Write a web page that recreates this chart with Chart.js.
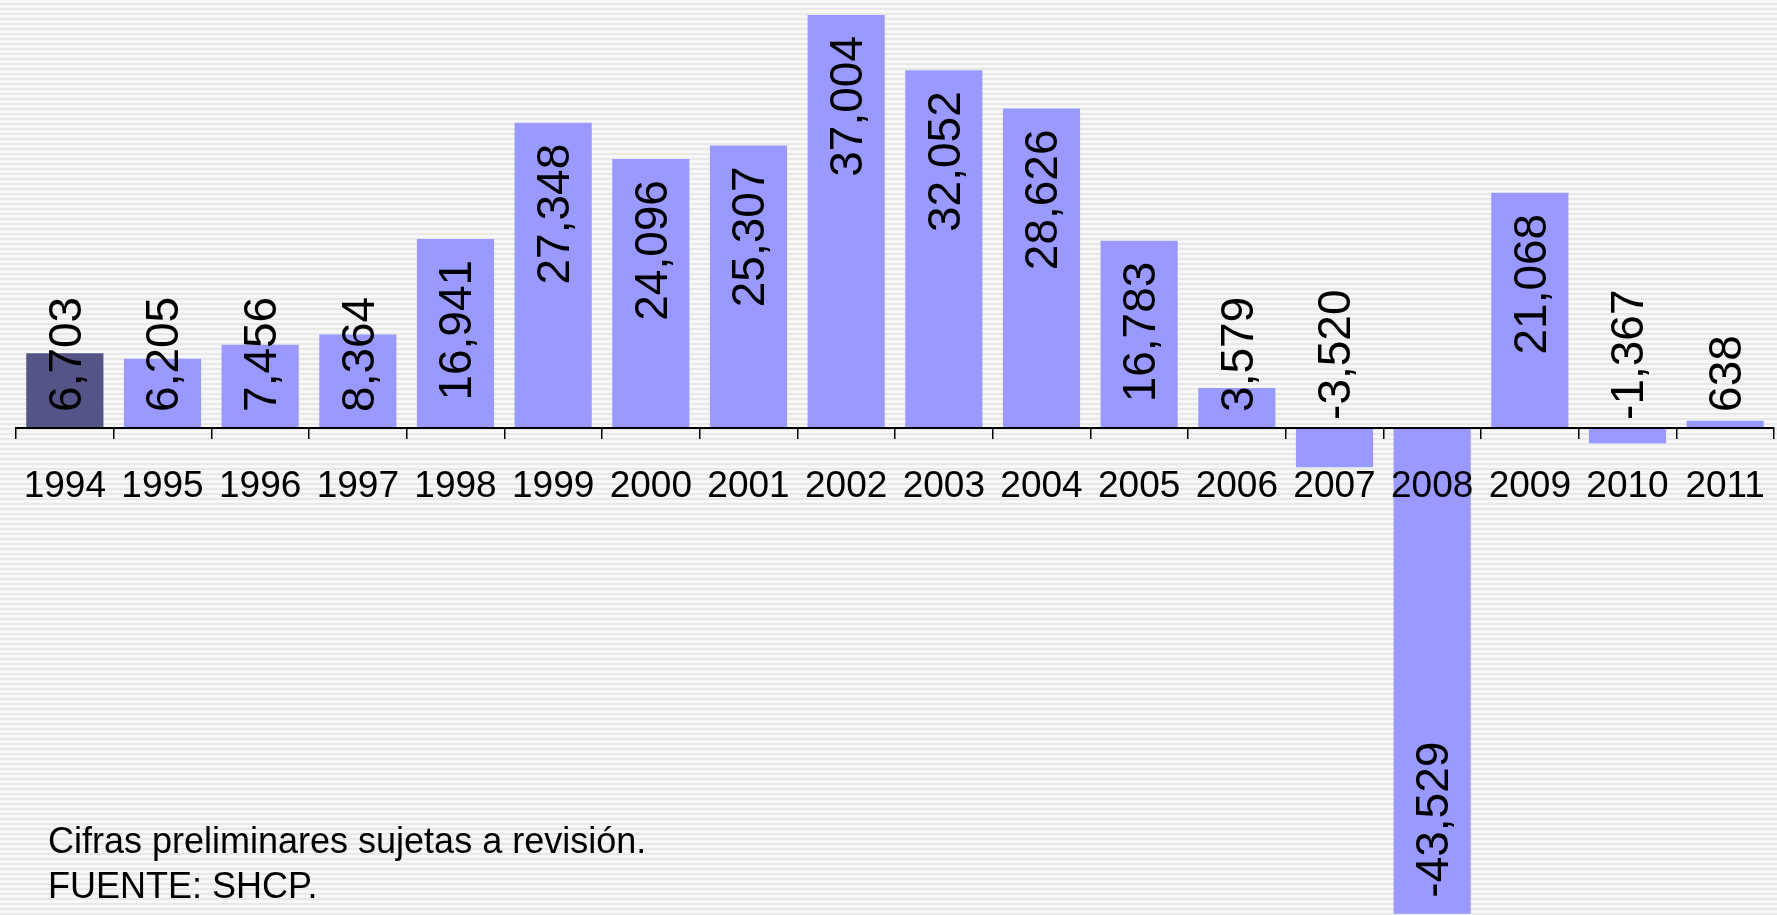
<!DOCTYPE html>
<html>
<head>
<meta charset="utf-8">
<script src="https://cdn.jsdelivr.net/npm/chart.js@4.4.0/dist/chart.umd.min.js"></script>
<style>
  html, body { margin: 0; padding: 0; }
  body {
    width: 1777px; height: 915px; overflow: hidden; position: relative;
    background: repeating-linear-gradient(to bottom, #f7f7f7 0px, #f7f7f7 3px, #e8e8e8 3px, #e8e8e8 5px);
    font-family: "Liberation Sans", Arial, sans-serif;
  }
  #wrap { position: absolute; left: 0; top: 0; width: 1777px; height: 915px; }
  #note {
    position: absolute; left: 48px; top: 818px;
    font-size: 36px; line-height: 45px; color: #000;
  }
</style>
</head>
<body>
<div id="wrap"><canvas id="chart"></canvas></div>
<div id="note">Cifras preliminares sujetas a revisión.<br>FUENTE: SHCP.</div>
<script>
// Data
const years = ['1994', '1995', '1996', '1997', '1998', '1999', '2000', '2001', '2002',
  '2003', '2004', '2005', '2006', '2007', '2008', '2009', '2010', '2011']
const values = [6703, 6205, 7456, 8364, 16941, 27348, 24096, 25307, 37004,
  32052, 28626, 16783, 3579, -3520, -43529, 21068, -1367, 638]

const FONT = '"Liberation Sans", Arial, sans-serif'
const barColors = values.map((v, i) => i === 0 ? '#545486' : '#9999ff')

// Rotated value labels, Excel-like placement (inside end, fall back to base)
const barValues = {
  id: 'barValues',
  afterDatasetsDraw(chart) {
    const ctx = chart.ctx
    const meta = chart.getDatasetMeta(0)
    ctx.save()
    ctx.font = '46px ' + FONT
    ctx.fillStyle = '#000'
    ctx.textBaseline = 'middle'
    ctx.textAlign = 'left'
    meta.data.forEach((bar, i) => {
      const v = values[i]
      const text = v.toLocaleString('en-US')
      const w = ctx.measureText(text).width
      const h = Math.abs(bar.base - bar.y)
      let start
      if (v > 0) {
        start = h > w + 37 ? bar.y + 21 + w : bar.base - 16
      } else {
        start = h > w + 32 ? bar.y - 16 : bar.base - 8
      }
      ctx.save()
      ctx.translate(bar.x + 3, start)
      ctx.rotate(-Math.PI / 2)
      ctx.fillText(text, 0, 0)
      ctx.restore()
    })
    ctx.restore()
  }
}

new Chart(document.getElementById('chart'), {
  type: 'bar',
  data: {
    labels: years,
    datasets: [{
      data: values,
      backgroundColor: barColors,
      borderWidth: 0,
      barPercentage: 0.79,
      categoryPercentage: 1.0,
    }]
  },
  options: {
    responsive: true,
    maintainAspectRatio: false,
    animation: false,
    layout: { padding: { left: 16, right: 3, top: 0, bottom: 0 } },
    plugins: {
      legend: { display: false },
      tooltip: { enabled: false },
    },
    scales: {
      x: {
        position: { y: 0 },
        offset: true,
        grid: {
          display: true,
          drawOnChartArea: false,
          drawTicks: true,
          tickLength: 10,
          offset: true,
          color: '#000',
          lineWidth: 1.5,
          z: 1,
        },
        border: { display: true, color: '#000', width: 2, z: 1 },
        ticks: {
          color: '#000',
          font: { size: 37, family: FONT },
          padding: 27,
          maxRotation: 0,
          autoSkip: false,
          z: 1,
        },
        // labels fit inside their categories, so drop the side padding
        afterFit(scale) {
          scale.paddingLeft = 0
          scale.paddingRight = 0
        },
      },
      y: {
        display: false,
        min: -43650,
        max: 38350,
      },
    },
  },
  plugins: [barValues],
})
</script>
</body>
</html>
